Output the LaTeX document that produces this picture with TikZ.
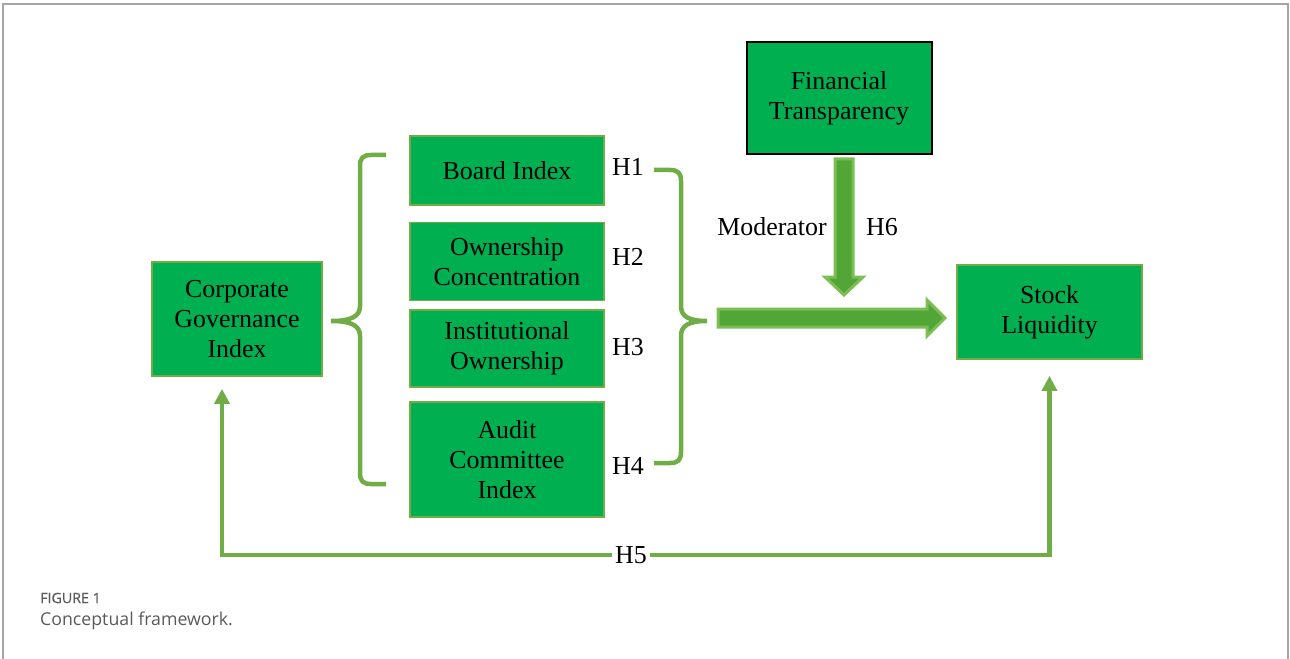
\documentclass[tikz,border=0pt]{standalone}
\usepackage{fontspec}
\setmainfont{Liberation Serif}
\newfontfamily\capfont{Open Sans}
\newfontfamily\capfontsb[FakeBold=0.5]{Open Sans}
\usetikzlibrary{arrows.meta}
\definecolor{boxgreen}{HTML}{00B050}
\definecolor{linegreen}{HTML}{70AD47}
\definecolor{arrowborder}{HTML}{7DBD56}
\definecolor{arrowfill}{HTML}{52A636}
\definecolor{framegray}{HTML}{A6A6A6}
\definecolor{capgray}{HTML}{5A5A5A}
\tikzset{
  gbox/.style={draw=linegreen, line width=1.8bp, fill=boxgreen, align=center,
    inner sep=0pt, font=\fontsize{26}{30}\selectfont,
    execute at begin node={\vspace*{5bp}}},
  hlabel/.style={font=\fontsize{26}{30}\selectfont, inner sep=2bp},
  conn/.style={draw=linegreen, line width=4.5bp, -{Triangle[length=15bp,width=15bp]}},
  brace/.style={draw=linegreen, line width=4.5bp},
  blockarrow/.style={draw=arrowborder, fill=arrowfill, line width=3bp, line join=miter},
}
\begin{document}
\begin{tikzpicture}[x=1bp,y=-1bp]
\useasboundingbox (0,0) rectangle (1290,659);
% frame
\draw[framegray, line width=2bp] (3,659) -- (3,4) -- (1288,4) -- (1288,659);

% boxes
\node[gbox, minimum width=185bp, minimum height=112bp, line width=2bp, draw=black] (ft) at (839,98) {Financial\\Transparency};
\node[gbox, minimum width=194bp, minimum height=69bp] (bi) at (507,170.5) {Board Index};
\node[gbox, minimum width=194bp, minimum height=78bp] (oc) at (507,261.5) {Ownership\\Concentration};
\node[gbox, minimum width=194bp, minimum height=77bp] (io) at (507,348.5) {Institutional\\Ownership};
\node[gbox, minimum width=194bp, minimum height=115bp] (ac) at (507,459.5) {Audit\\Committee\\Index};
\node[gbox, minimum width=170bp, minimum height=114bp] (cgi) at (237,319) {Corporate\\Governance\\Index};
\node[gbox, minimum width=185bp, minimum height=94bp] (sl) at (1049.5,312) {Stock\\Liquidity};

% H labels
\node[hlabel] (h1) at (628,167) {H1};
\node[hlabel] (h2) at (628,257) {H2};
\node[hlabel] (h3) at (628,347) {H3};
\node[hlabel] (h4) at (628,466) {H4};
\node[hlabel, inner sep=3bp] (h5) at (631,555) {H5};
\node[hlabel] (mod) at (772,227) {Moderator};
\node[hlabel] (h6) at (882,227) {H6};

% left brace
\draw[brace] (386,155) -- (371,155) .. controls (363,155) and (360,158) .. (360,166)
  -- (360,306) .. controls (360,316) and (352,321) .. (331,321)
  .. controls (352,321) and (360,326) .. (360,336)
  -- (360,473) .. controls (360,481) and (363,484) .. (371,484) -- (386,484);
% right brace
\draw[brace] (654,170) -- (670,170) .. controls (678,170) and (681,173) .. (681,181)
  -- (681,306) .. controls (681,316) and (688,321) .. (707,321)
  .. controls (688,321) and (681,326) .. (681,336)
  -- (681,452) .. controls (681,460) and (678,463) .. (670,463) -- (654,463);

% block arrows
\draw[blockarrow] (718,309) -- (927,309) -- (927,300) -- (945,318) -- (927,336) -- (927,327) -- (718,327) -- cycle;
\draw[blockarrow] (835,159) -- (853,159) -- (853,277) -- (863,277) -- (844,295) -- (825,277) -- (835,277) -- cycle;

% H5 connectors
\draw[conn, shorten >=12bp] (h5.west) -| ([xshift=-15bp]cgi.south);
\draw[conn, shorten >=16bp] (h5.east) -| (sl.south);

% caption
\node[anchor=west, inner sep=0pt, text=capgray, font=\capfontsb\fontsize{14.3}{16}\selectfont] (fig) at (40,598) {FIGURE 1};
\node[anchor=west, inner sep=0pt, text=capgray, font=\capfont\fontsize{17.8}{20}\selectfont] (cap) at (40,621) {Conceptual framework.};
\end{tikzpicture}
\end{document}
